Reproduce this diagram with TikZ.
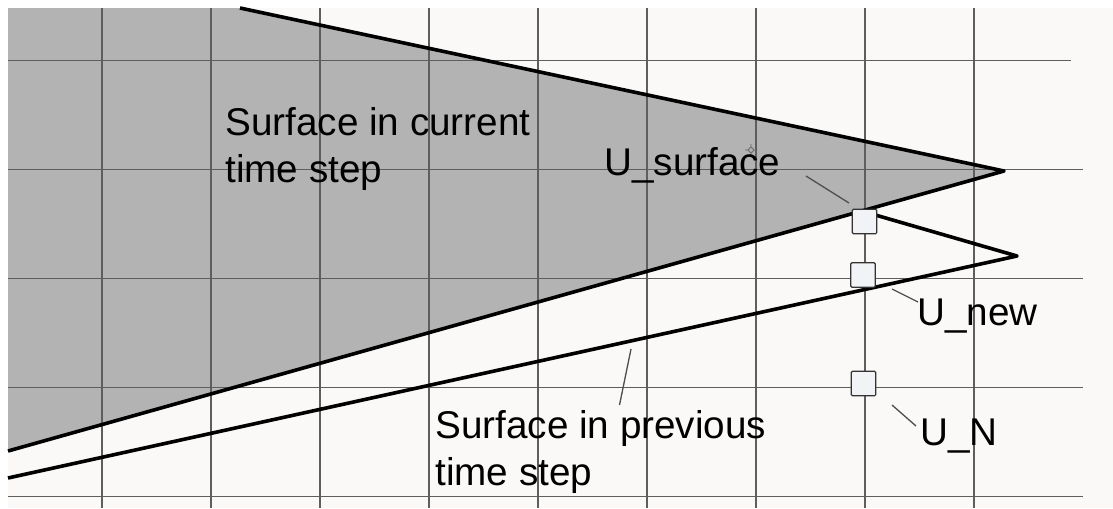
\documentclass[tikz,border=0pt]{standalone}
\usepackage{fontspec}
\setmainfont{Liberation Sans}
\usepackage{tikz}
\usetikzlibrary{positioning}
\definecolor{paper}{HTML}{FAF9F7}
\definecolor{surfgray}{HTML}{B3B3B3}
\definecolor{gridgray}{HTML}{5E5E5E}
\definecolor{boxfill}{HTML}{F2F3F7}

\begin{document}
\begin{tikzpicture}[x=0.75pt,y=-0.75pt,
    gridline/.style={gridgray, line width=1.1pt},
    surfline/.style={black, line width=2.7pt, line join=round},
    leader/.style={gridgray!85!black, line width=1pt},
    marker/.style={draw=black!80, fill=boxfill, line width=0.9pt, minimum size=18.5pt, inner sep=0pt, rounded corners=1pt},
    lbl/.style={inner sep=0pt, anchor=base west, align=left, font=\fontsize{29}{35}\selectfont}]
    \useasboundingbox (0,0) rectangle (1113,508);
    \fill[white] (0,0) rectangle (1113,508);
    \fill[paper] (8,8) rectangle (1113,508);

    % surface corners
    \coordinate (curtop) at (240,8);
    \coordinate (curtip) at (1004,171);
    \coordinate (curlow) at (8,451);
    \coordinate (prevtip) at (1017,256);
    \coordinate (prevlow) at (8,478);
    \coordinate (prevtop) at (865,212);

    % current surface (filled)
    \fill[surfgray] (8,8) -- (curtop) -- (curtip) -- (curlow) -- cycle;

    % grid
    \foreach \x in {0,...,8}
        \draw[gridline] (102+109*\x,8) -- (102+109*\x,508);
    \draw[gridline] (8,60.5) -- (1071,60.5);
    \foreach \y in {1,...,4}
        \draw[gridline] (8,60.5+109*\y) -- (1083,60.5+109*\y);

    % surface outlines
    \draw[surfline] (curtop) -- (curtip) -- (curlow);
    \draw[surfline] (prevtop) -- (prevtip) -- (prevlow);

    % cursor mark
    \draw[gridgray, line width=0.6pt] (751,150) circle (2.5)
        (751,144) -- (751,147) (751,153) -- (751,156)
        (745,150) -- (748,150) (754,150) -- (757,150);

    % unknowns on the grid line
    \node[marker] (usurf) at (864.5,221.5) {};
    \node[marker] (unew) at (863,275) {};
    \node[marker] (un) at (863.5,383.5) {};

    % labels (base = last line)
    \node[lbl] (curlbl) at (225,182) {Surface in current\\time step};
    \node[lbl] (prevlbl) at (435,485) {Surface in previous\\time step};
    \node[lbl] (usurflbl) at (604,175) {U\_surface};
    \node[lbl] (unewlbl) at (917,325) {U\_new};
    \node[lbl] (unlbl) at (920,445) {U\_N};

    % leader lines
    \coordinate (usurfend) at (806,176);
    \coordinate (unewend) at (892,289);
    \coordinate (unend) at (892,405);
    \coordinate (prevend) at (631,349);
    \draw[leader] (usurfend) -- (849,203);
    \draw[leader] (unewend) -- (918,302);
    \draw[leader] (unend) -- (916,426);
    \draw[leader] (prevend) -- (619.5,405);
\end{tikzpicture}
\end{document}
